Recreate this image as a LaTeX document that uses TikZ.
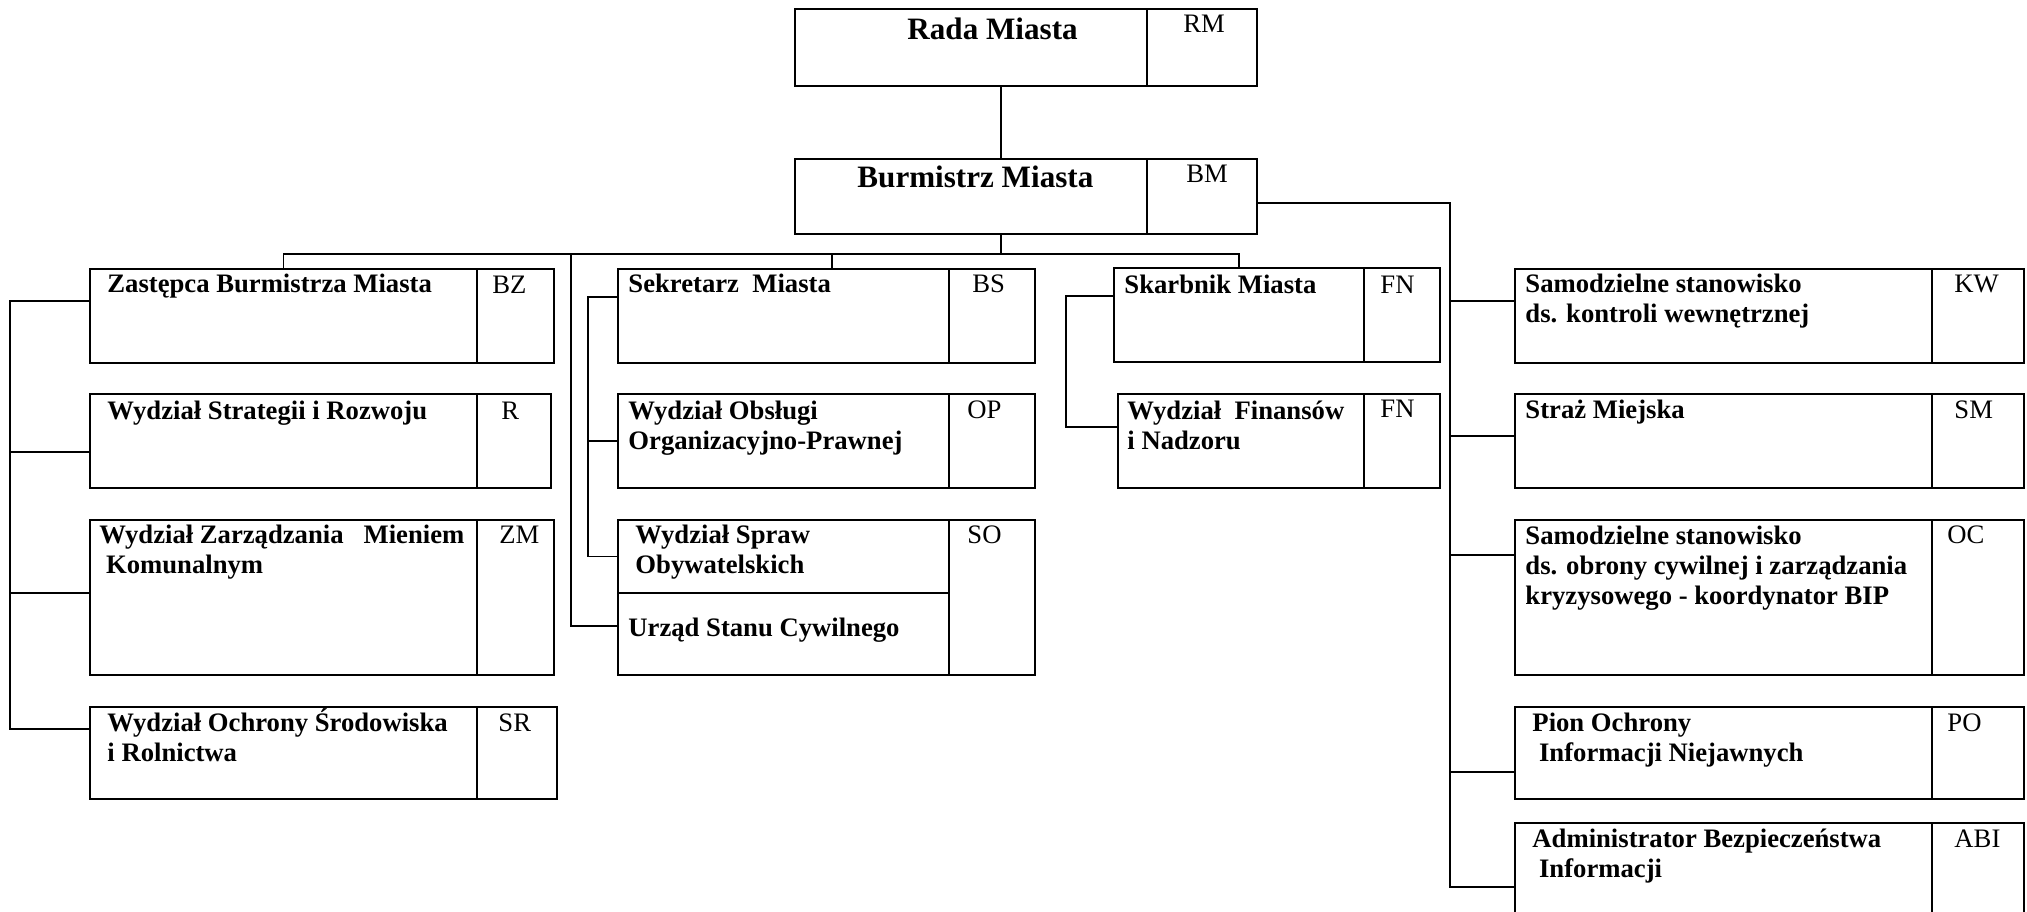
\documentclass[tikz,border=0pt]{standalone}
\usepackage{fontspec}
\setmainfont{Liberation Serif}
\usetikzlibrary{fit,calc}

\begin{document}
\begin{tikzpicture}[
  x=0.45pt, y=-0.45pt,
  cell/.style={draw, line width=0.9pt, inner sep=0pt, outer sep=0pt},
  link/.style={draw, line width=0.6pt},
  unitname/.style={anchor=base west, inner sep=0pt, align=left, font=\fontsize{12}{13.5}\selectfont\bfseries},
  unitcode/.style={anchor=base west, inner sep=0pt, font=\fontsize{12}{13.5}\selectfont},
  toptext/.style={anchor=base west, inner sep=0pt, font=\fontsize{14}{16}\selectfont\bfseries}
]
\useasboundingbox (0,0) rectangle (2027,912);
\clip (0,0) rectangle (2027,912);

% top
\node[cell, fit={(795,9) (1147,86)}] (rm) {};
\node[cell, fit={(1147,9) (1257,86)}] (rmc) {};
\node[cell, fit={(795,159) (1147,234)}] (bm) {};
\node[cell, fit={(1147,159) (1257,234)}] (bmc) {};
\node[toptext] (rmt) at (907,40) {Rada Miasta};
\node[unitcode, anchor=base] (rmk) at (1204,33) {RM};
\node[toptext] (bmt) at (857,188) {Burmistrz Miasta};
\node[unitcode, anchor=base] (bmk) at (1207,183) {BM};

% left column (multi-line names sit on the last baseline)
\node[cell, fit={(90,269) (477,363)}] (bz) {};
\node[cell, fit={(477,269) (554,363)}] (bzc) {};
\node[cell, fit={(90,394) (477,488)}] (r) {};
\node[cell, fit={(477,394) (551,488)}] (rc) {};
\node[cell, fit={(90,520) (477,675)}] (zm) {};
\node[cell, fit={(477,520) (554,675)}] (zmc) {};
\node[cell, fit={(90,707) (477,799)}] (sr) {};
\node[cell, fit={(477,707) (557,799)}] (src) {};
\node[unitname] (bzt) at (107,293) {Zastępca Burmistrza Miasta};
\node[unitcode] (bzk) at (492,294) {BZ};
\node[unitname] (rt) at (107,420) {Wydział Strategii i Rozwoju};
\node[unitcode] (rk) at (501,420) {R};
\node[unitname] (zmt) at (99,574) {Wydział Zarządzania \ \ Mieniem\\\hspace*{3pt}Komunalnym};
\node[unitcode] (zmk) at (499,544) {ZM};
\node[unitname] (srt) at (107,762) {Wydział Ochrony Środowiska\\i Rolnictwa};
\node[unitcode] (srk) at (498,732) {SR};

% middle column
\node[cell, fit={(618,269) (949,363)}] (bs) {};
\node[cell, fit={(949,269) (1035,363)}] (bsc) {};
\node[cell, fit={(618,394) (949,488)}] (op) {};
\node[cell, fit={(949,394) (1035,488)}] (opc) {};
\node[cell, fit={(618,520) (949,593)}] (so) {};
\node[cell, fit={(618,593) (949,675)}] (usc) {};
\node[cell, fit={(949,520) (1035,675)}] (soc) {};
\node[unitname] (bst) at (628,293) {Sekretarz \ Miasta};
\node[unitcode] (bsk) at (972,293) {BS};
\node[unitname] (opt) at (628,450) {Wydział Obsługi\\Organizacyjno-Prawnej};
\node[unitcode] (opk) at (967,419) {OP};
\node[unitname] (sot) at (635,574) {Wydział Spraw\\Obywatelskich};
\node[unitcode] (sok) at (967,544) {SO};
\node[unitname] (usct) at (628,637) {Urząd Stanu Cywilnego};

% finance column
\node[cell, fit={(1114,268) (1364,362)}] (sk) {};
\node[cell, fit={(1364,268) (1440,362)}] (skc) {};
\node[cell, fit={(1118,394) (1364,488)}] (fn) {};
\node[cell, fit={(1364,394) (1440,488)}] (fnc) {};
\node[unitname] (skt) at (1124,294) {Skarbnik Miasta};
\node[unitcode] (skk) at (1380,294) {FN};
\node[unitname] (fnt) at (1127,450) {Wydział \ Finansów\\i Nadzoru};
\node[unitcode] (fnk) at (1380,418) {FN};

% right column
\node[cell, fit={(1515,269) (1932,363)}] (kw) {};
\node[cell, fit={(1932,269) (2024,363)}] (kwc) {};
\node[cell, fit={(1515,394) (1932,488)}] (sm) {};
\node[cell, fit={(1932,394) (2024,488)}] (smc) {};
\node[cell, fit={(1515,520) (1932,675)}] (oc) {};
\node[cell, fit={(1932,520) (2024,675)}] (occ) {};
\node[cell, fit={(1515,707) (1932,799)}] (po) {};
\node[cell, fit={(1932,707) (2024,799)}] (poc) {};
\node[cell, fit={(1515,823) (1932,930)}] (abi) {};
\node[cell, fit={(1932,823) (2024,930)}] (abic) {};
\node[unitname] (kwt) at (1525,323) {Samodzielne stanowisko\\ds. kontroli wewnętrznej};
\node[unitcode] (kwk) at (1954,293) {KW};
\node[unitname] (smt) at (1525,419) {Straż Miejska};
\node[unitcode] (smk) at (1954,419) {SM};
\node[unitname] (oct) at (1525,605) {Samodzielne stanowisko\\ds. obrony cywilnej i zarządzania\\kryzysowego - koordynator BIP};
\node[unitcode] (ock) at (1947,544) {OC};
\node[unitname] (pot) at (1532,762) {Pion Ochrony\\\hspace*{3pt}Informacji Niejawnych};
\node[unitcode] (pok) at (1947,732) {PO};
\node[unitname] (abit) at (1532,878) {Administrator Bezpieczeństwa\\\hspace*{3pt}Informacji};
\node[unitcode] (abik) at (1954,848) {ABI};

% connectors
\coordinate (bus) at (1001,254);
\coordinate (ls) at (10,301);
\coordinate (ms) at (588,297);
\coordinate (fs) at (1066,296);
\coordinate (rs) at (1450,203);

\draw[link] (rm.south -| bus) -- (bm.north -| bus);
\draw[link] (bm.south -| bus) -- (bus);
\draw[link] (bz.north) -- (bz.north |- bus) -- (sk.north |- bus) -- (sk.north);
\draw[link] (832,0 |- bus) -- (832,0 |- bs.north);
\draw[link] (571,0 |- bus) |- (usc.west |- 0,626);

\draw[link] (bz.west |- ls) -- (ls) |- (sr.west |- 0,729);
\draw[link] (ls |- 0,452) -- (r.west |- 0,452);
\draw[link] (ls |- 0,593) -- (zm.west |- 0,593);

\draw[link] (bs.west |- ms) -- (ms) |- (so.west);
\draw[link] (ms |- op.west) -- (op.west);

\draw[link] (sk.west |- fs) -- (fs) |- (fn.west |- 0,427);

\draw[link] (bmc.east |- rs) -- (rs) |- (abi.west |- 0,887);
\foreach \u/\y in {kw/301, sm/436, oc/555, po/772}
  \draw[link] (rs |- 0,\y) -- (\u.west |- 0,\y);

\end{tikzpicture}
\end{document}
